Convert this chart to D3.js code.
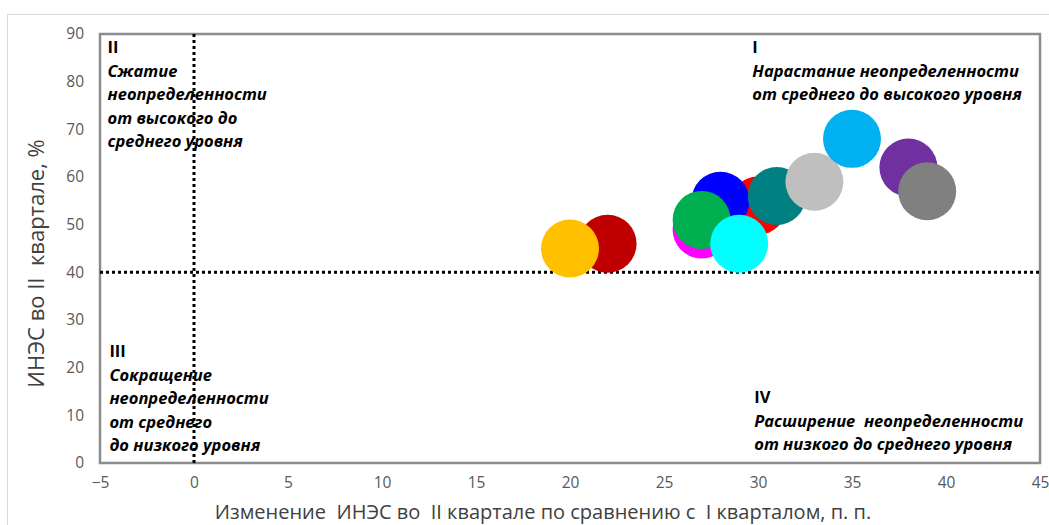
<!DOCTYPE html>
<html>
<head>
<meta charset="utf-8">
<script src="https://cdn.jsdelivr.net/npm/d3@7"></script>
<style>
  html, body { margin: 0; padding: 0; background: #fff; }
  svg { display: block; }
  text { white-space: pre; }
</style>
</head>
<body>
<svg id="chart" width="1049" height="525"></svg>
<script>
// Change of the index vs. level in Q2, one bubble per economy (draw order: back to front)
const pointX = [30, 28, 27, 27, 29, 31, 33, 35, 22, 20, 38, 39];
const pointY = [54, 55, 49, 51, 46, 56, 59, 68, 46, 45, 62, 57];
const pointColors = ["#FF0000", "#0000FF", "#FF00FF", "#00B050", "#00FFFF", "#008080",
                     "#BFBFBF", "#00B0F0", "#C00000", "#FFC000", "#7030A0", "#808080"];

const xTicks = [-5, 0, 5, 10, 15, 20, 25, 30, 35, 40, 45];
const yTicks = [0, 10, 20, 30, 40, 50, 60, 70, 80, 90];

const xThreshold = 0;
const yThreshold = 40;

const xTitle = "Изменение  ИНЭС во  II квартале по сравнению с  I кварталом, п. п.";
const yTitle = "ИНЭС во II  квартале, %";

const quadrants = [
  { num: "II",  lines: ["Сжатие", "неопределенности", "от высокого до", "среднего уровня"], x: -4.6, y: 86 },
  { num: "I",   lines: ["Нарастание неопределенности", "от среднего до высокого уровня"], x: 29.7, y: 86 },
  { num: "III", lines: ["Сокращение", "неопределенности", "от среднего", "до низкого уровня"], x: -4.5, y: 22.2 },
  { num: "IV",  lines: ["Расширение  неопределенности", "от низкого до среднего уровня"], x: 29.8, y: 12.5 }
];

const svg = d3.select("#chart");
const W = 1049, H = 525;
const margin = { left: 100, right: 10, top: 34, bottom: 62 };

// outer chart frame
svg.append("rect")
  .attr("x", 7.5).attr("y", 14.5)
  .attr("width", W).attr("height", H)
  .attr("fill", "none").attr("stroke", "#D9D9D9").attr("stroke-width", 1);

const x = d3.scaleLinear().domain([-5, 45]).range([margin.left, W - margin.right + 1]);
const y = d3.scaleLinear().domain([0, 90]).range([H - margin.bottom, margin.top]);

const font = "Open Sans, Liberation Sans, sans-serif";

// axes (labels only, the plot frame is drawn separately)
const xAxis = svg.append("g")
  .attr("transform", `translate(0,${y(0)})`)
  .call(d3.axisBottom(x).tickValues(xTicks).tickSize(0).tickPadding(14).tickFormat(d3.format("d")));
xAxis.select(".domain").remove();
xAxis.selectAll("text").attr("font-family", font).attr("font-size", 15.5).attr("fill", "#595959");

const yAxis = svg.append("g")
  .attr("transform", `translate(${x(-5)},0)`)
  .call(d3.axisLeft(y).tickValues(yTicks).tickSize(0).tickPadding(16).tickFormat(d3.format("d")));
yAxis.select(".domain").remove();
yAxis.selectAll("text").attr("font-family", font).attr("font-size", 15.5).attr("fill", "#595959");

// plot area border
svg.append("rect")
  .attr("x", x(-5)).attr("y", y(90))
  .attr("width", x(45) - x(-5)).attr("height", y(0) - y(90))
  .attr("fill", "none").attr("stroke", "#8C8C8C").attr("stroke-width", 2.5);

// dotted separators between quadrants
svg.append("line")
  .attr("x1", x(xThreshold)).attr("x2", x(xThreshold))
  .attr("y1", y(90)).attr("y2", y(0))
  .attr("stroke", "#000").attr("stroke-width", 3).attr("stroke-dasharray", "3,3");
svg.append("line")
  .attr("x1", x(-5)).attr("x2", x(45))
  .attr("y1", y(yThreshold)).attr("y2", y(yThreshold))
  .attr("stroke", "#000").attr("stroke-width", 3).attr("stroke-dasharray", "3,3");

// quadrant captions
quadrants.forEach(q => {
  const t = svg.append("text")
    .attr("x", x(q.x)).attr("y", y(q.y))
    .attr("font-family", font).attr("font-size", 16.5).attr("fill", "#000");
  t.append("tspan").attr("x", x(q.x)).attr("dy", 0)
    .attr("font-weight", "bold").text(q.num);
  q.lines.forEach(line => {
    t.append("tspan").attr("x", x(q.x)).attr("dy", 23.5)
      .attr("font-weight", "bold").attr("font-style", "italic").text(line);
  });
});

// bubbles
const r = 29;
svg.append("g").selectAll("circle")
  .data(pointX.map((v, i) => ({ x: v, y: pointY[i], c: pointColors[i] })))
  .join("circle")
  .attr("cx", d => x(d.x)).attr("cy", d => y(d.y)).attr("r", r)
  .attr("fill", d => d.c);

// axis titles
svg.append("text")
  .attr("x", 543).attr("y", 519)
  .attr("text-anchor", "middle")
  .attr("font-family", font).attr("font-size", 20).attr("fill", "#404040")
  .text(xTitle);

svg.append("text")
  .attr("transform", `translate(44,${(y(0) + y(90)) / 2 + 15}) rotate(-90)`)
  .attr("text-anchor", "middle")
  .attr("font-family", font).attr("font-size", 22).attr("fill", "#404040")
  .text(yTitle);
</script>
</body>
</html>
